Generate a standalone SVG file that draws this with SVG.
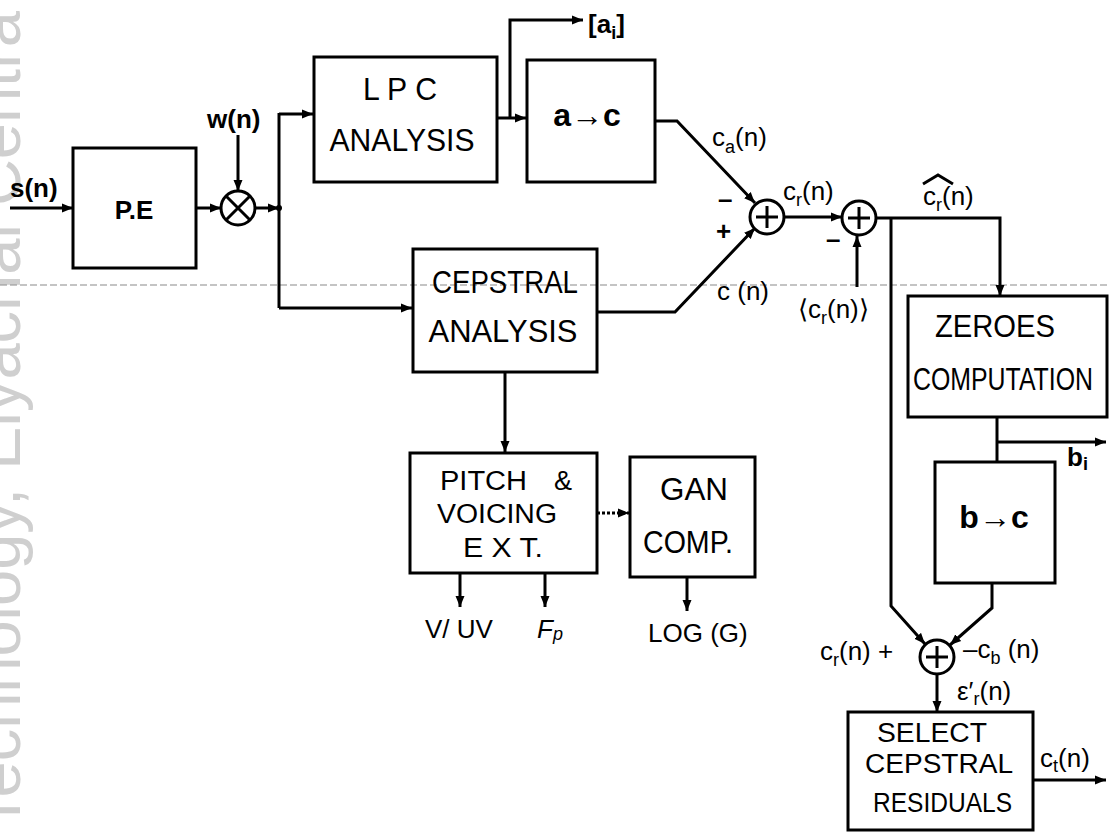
<svg xmlns="http://www.w3.org/2000/svg" width="1109" height="838" viewBox="0 0 1109 838">
<style>
.box{fill:none;stroke:#000;stroke-width:3}
.ln{fill:none;stroke:#000;stroke-width:3}
.t{font-family:"Liberation Sans",Arial,sans-serif;fill:#000;font-size:32px}
.s{font-size:27px}
.lb{font-family:"Liberation Sans",Arial,sans-serif;fill:#000;font-size:26px}
.b{font-weight:bold}
.m{text-anchor:middle}
.sub{font-size:18px}
</style>
<defs>
<marker id="ah" markerWidth="12" markerHeight="10" refX="11" refY="5" orient="auto" markerUnits="userSpaceOnUse">
<path d="M0,0.5 L11,5 L0,9.5 z" fill="#000"/>
</marker>
</defs>
<rect width="1109" height="838" fill="#fff"/>
<text transform="translate(20,830) rotate(-90)" font-family="Liberation Sans,Arial,sans-serif" font-size="65" fill="#cfcfcf">Technology, Eiyachai Centra</text>
<line x1="0" y1="285" x2="1109" y2="285" stroke="#8a8a8a" stroke-width="1.2" stroke-dasharray="7 3"/>

<g id="connectors">
<path class="ln" d="M10,208 H73" marker-end="url(#ah)"/>
<path class="ln" d="M196,208 H221" marker-end="url(#ah)"/>
<path class="ln" d="M238,135 V191" marker-end="url(#ah)"/>
<path class="ln" d="M255,208 H279" marker-end="url(#ah)"/>
<circle cx="279" cy="208" r="3" fill="#000"/>
<path class="ln" d="M279,113 V308"/>
<path class="ln" d="M279,114 H313" marker-end="url(#ah)"/>
<path class="ln" d="M279,308 H412" marker-end="url(#ah)"/>
<path class="ln" d="M497,118 H526" marker-end="url(#ah)"/>
<path class="ln" d="M510,118 V20 H583" marker-end="url(#ah)"/>
<path class="ln" d="M655,121 H677 L755,203" marker-end="url(#ah)"/>
<path class="ln" d="M597,312 H675 L755,228" marker-end="url(#ah)"/>
<path class="ln" d="M784,217 H842" marker-end="url(#ah)"/>
<path class="ln" d="M857,287 V236" marker-end="url(#ah)"/>
<path class="ln" d="M876,218 H1000 V296" marker-end="url(#ah)"/>
<path class="ln" d="M891,218 V606 L925,644" marker-end="url(#ah)"/>
<path class="ln" d="M997,417 V462"/>
<path class="ln" d="M997,442 H1106" marker-end="url(#ah)"/>
<path class="ln" d="M992,583 V608 L950,645" marker-end="url(#ah)"/>
<path class="ln" d="M937,674 V712" marker-end="url(#ah)"/>
<path class="ln" d="M1033,780 H1106" marker-end="url(#ah)"/>
<path class="ln" d="M505,372 V452" marker-end="url(#ah)"/>
<path class="ln" d="M597,513 H629" stroke-dasharray="3 2" marker-end="url(#ah)"/>
<path class="ln" d="M460,573 V607" marker-end="url(#ah)"/>
<path class="ln" d="M545,573 V607" marker-end="url(#ah)"/>
<path class="ln" d="M687,577 V611" marker-end="url(#ah)"/>
</g>

<g id="labels">
<text class="lb b" x="10" y="197">s(n)</text>
<text class="lb b" x="207" y="128">w(n)</text>
<text class="lb b" x="588" y="33">[a<tspan class="sub" dy="6">i</tspan><tspan dy="-6">]</tspan></text>
<text class="lb" x="712" y="146">c<tspan class="sub" dy="7">a</tspan><tspan dy="-7">(n)</tspan></text>
<text class="lb b" x="718" y="208">–</text>
<text class="lb b" x="716" y="240">+</text>
<text class="lb" x="783" y="200">c<tspan class="sub" dy="6">r</tspan><tspan dy="-6">(n)</tspan></text>
<text class="lb b" x="826" y="248">–</text>
<text class="lb" x="798" y="318">⟨c<tspan class="sub" dy="6">r</tspan><tspan dy="-6">(n)⟩</tspan></text>
<text class="lb" x="717" y="300">c (n)</text>
<path class="ln" d="M923,184 L938,175 L953,184" stroke-width="2.5"/>
<text class="lb" x="923" y="205">c<tspan class="sub" dy="6">r</tspan><tspan dy="-6">(n)</tspan></text>
<text class="lb b" x="1067" y="466">b<tspan class="sub" dy="4">i</tspan></text>
<text class="lb" x="820" y="660">c<tspan class="sub" dy="6">r</tspan><tspan dy="-6">(n) +</tspan></text>
<text class="lb" x="963" y="658">–c<tspan class="sub" dy="6">b</tspan><tspan dy="-6"> (n)</tspan></text>
<text class="lb" x="957" y="700" font-size="24">ε′<tspan class="sub" dy="5">r</tspan><tspan dy="-5">(n)</tspan></text>
<text class="lb" x="1040" y="767">c<tspan class="sub" dy="5">t</tspan><tspan dy="-5">(n)</tspan></text>
<text class="lb" x="425" y="638">V/ UV</text>
<text class="lb" x="537" y="638" font-style="italic">F<tspan class="sub" dy="2">p</tspan></text>
<text class="lb" x="648" y="642">LOG (G)</text>
</g>

<g id="pe">
<rect class="box" x="73" y="148" width="123" height="120"/>
<text class="lb b m" x="134" y="219">P.E</text>
</g>
<g id="mult">
<circle class="box" cx="238" cy="208" r="17"/>
<path class="ln" d="M226,196 L250,220 M250,196 L226,220" stroke-width="2.5"/>
</g>
<g id="lpc">
<rect class="box" x="314" y="57" width="183" height="125"/>
<text class="t m" x="400" y="100" textLength="74" lengthAdjust="spacingAndGlyphs">L P C</text>
<text class="t m" x="402" y="151" textLength="145" lengthAdjust="spacingAndGlyphs">ANALYSIS</text>
</g>
<g id="a2c">
<rect class="box" x="527" y="60" width="128" height="122"/>
<text class="t b m" x="587" y="126" font-size="28">a→c</text>
</g>
<g id="cep">
<rect class="box" x="413" y="249" width="184" height="123"/>
<text class="t m" x="505" y="293" textLength="146" lengthAdjust="spacingAndGlyphs">CEPSTRAL</text>
<text class="t m" x="503" y="342" textLength="149" lengthAdjust="spacingAndGlyphs">ANALYSIS</text>
</g>
<g id="sum1">
<circle class="box" cx="767" cy="217" r="17"/>
<path class="ln" d="M767,206 V228 M756,217 H778" stroke-width="2.5"/>
</g>
<g id="sum2">
<circle class="box" cx="859" cy="218" r="17"/>
<path class="ln" d="M859,207 V229 M848,218 H870" stroke-width="2.5"/>
</g>
<g id="zeroes">
<rect class="box" x="908" y="296" width="199" height="121"/>
<text class="t" x="935" y="337" textLength="120" lengthAdjust="spacingAndGlyphs">ZEROES</text>
<text class="t" x="913" y="390" font-size="30" textLength="180" lengthAdjust="spacingAndGlyphs">COMPUTATION</text>
</g>
<g id="b2c">
<rect class="box" x="935" y="462" width="120" height="121"/>
<text class="t b m" x="994" y="528" font-size="28">b→c</text>
</g>
<g id="sum3">
<circle class="box" cx="937" cy="657" r="17"/>
<path class="ln" d="M937,646 V668 M926,657 H948" stroke-width="2.5"/>
</g>
<g id="select">
<rect class="box" x="848" y="712" width="185" height="118"/>
<text class="t s" x="877" y="742" textLength="110" lengthAdjust="spacingAndGlyphs">SELECT</text>
<text class="t s" x="865" y="773" textLength="148" lengthAdjust="spacingAndGlyphs">CEPSTRAL</text>
<text class="t s" x="873" y="812" textLength="139" lengthAdjust="spacingAndGlyphs">RESIDUALS</text>
</g>
<g id="pitch">
<rect class="box" x="410" y="453" width="187" height="120"/>
<text class="t s" x="440" y="490" textLength="87" lengthAdjust="spacingAndGlyphs">PITCH</text>
<text class="t s" x="554" y="490">&amp;</text>
<text class="t s" x="437" y="523" textLength="120" lengthAdjust="spacingAndGlyphs">VOICING</text>
<text class="t s" x="463" y="557" textLength="80" lengthAdjust="spacingAndGlyphs">E X T.</text>
</g>
<g id="gan">
<rect class="box" x="630" y="457" width="125" height="120"/>
<text class="t" x="660" y="500" textLength="68" lengthAdjust="spacingAndGlyphs">GAN</text>
<text class="t" x="643" y="553" textLength="90" lengthAdjust="spacingAndGlyphs">COMP.</text>
</g>
</svg>
